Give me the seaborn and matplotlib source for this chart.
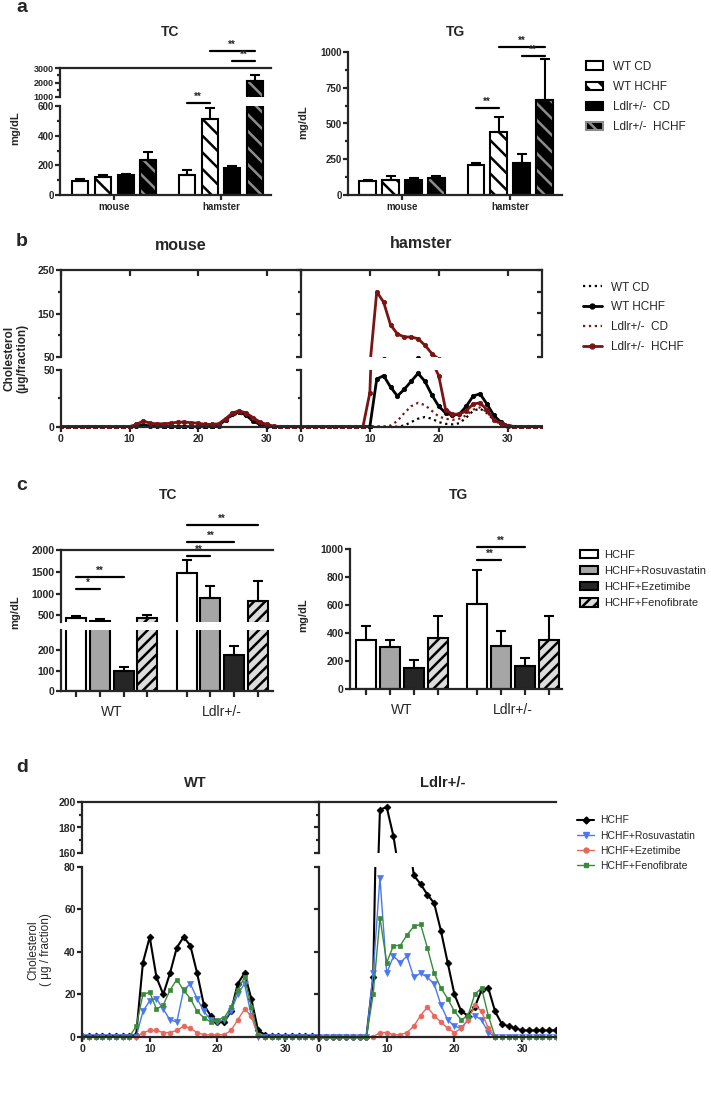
import numpy as np
import pandas as pd
import matplotlib
matplotlib.use("Agg")
import matplotlib.pyplot as plt
import matplotlib.transforms as mtrans
from matplotlib.patches import Rectangle, Patch
from matplotlib.lines import Line2D
import seaborn as sns

# ---- data ----
species = ["mouse", "hamster"]
groups_a = ["WT CD", "WT HCHF", "Ldlr+/-  CD", "Ldlr+/-  HCHF"]
tc_a = {"mouse": [92, 121, 138, 237], "hamster": [138, 514, 180, 2100]}
tc_a_err = {"mouse": [105, 138, 143, 290], "hamster": [169, 587, 198, 2500]}
tg_a = {"mouse": [95, 107, 102, 121], "hamster": [208, 438, 225, 665]}
tg_a_err = {"mouse": [105, 130, 116, 130], "hamster": [224, 548, 290, 950]}

fraction = list(range(36))
mouse_wt_cd = [0]*23 + [2, 6, 10, 12, 9, 5, 2, 0.5] + [0]*5
mouse_wt_hchf = [0]*11 + [0.5, 1.5, 0.5, 0.2] + [0]*8 + [1, 6, 11, 13, 10, 5, 2, 0.5] + [0]*5
mouse_ko_cd = [0]*23 + [2, 6, 10, 12, 10, 6, 3, 1] + [0]*5
mouse_ko_hchf = [0]*11 + [2, 5, 3, 2.5, 2.5, 3, 4, 4, 3.5, 3, 2, 2, 2.5, 7, 12, 14, 12, 8, 4, 2, 0.5] + [0]*4
ham_wt_cd = [0]*15 + [1, 4, 7, 8.5, 7, 4, 2.5, 2, 3, 8, 14, 16, 12, 6, 2, 0.5] + [0]*5
ham_wt_hchf = [0]*11 + [42, 45, 35, 27, 33, 40, 47, 40, 28, 18, 12, 10, 11, 18, 27, 29, 20, 10, 4, 1] + [0]*5
ham_ko_cd = [0]*13 + [1, 5, 12, 18, 21, 19, 14, 9, 7, 6, 7, 10, 15, 17, 13, 6, 2, 0.5] + [0]*5
ham_ko_hchf = [0]*10 + [30, 200, 176, 124, 103, 96, 96, 92, 77, 58, 45, 15, 11, 11, 14, 20, 21, 15, 6, 3, 1] + [0]*5

genotypes = ["WT", "Ldlr+/-"]
groups_c = ["HCHF", "HCHF+Rosuvastatin", "HCHF+Ezetimibe", "HCHF+Fenofibrate"]
tc_c = {"WT": [450, 380, 100, 440], "Ldlr+/-": [1480, 900, 175, 820]}
tc_c_err = {"WT": [490, 420, 120, 520], "Ldlr+/-": [1760, 1180, 220, 1280]}
tg_c = {"WT": [350, 300, 150, 365], "Ldlr+/-": [610, 305, 165, 350]}
tg_c_err = {"WT": [450, 350, 205, 525], "Ldlr+/-": [850, 415, 225, 520]}

wt_hchf = [0.5]*8 + [1, 35, 47, 28, 20, 30, 42, 47, 43, 30, 15, 10, 7, 7, 12, 25, 30, 18, 3, 1] + [0.5]*8
wt_rosu = [0]*9 + [12, 17, 18, 13, 8, 7, 22, 25, 18, 12, 8, 7, 8, 12, 20, 25, 10] + [0]*10
wt_ezet = [0]*9 + [2, 3, 3, 2, 2, 3, 5, 4, 2, 1, 1, 1, 1, 3, 8, 13, 10, 1] + [0]*9
wt_feno = [0]*8 + [5, 20, 21, 13, 15, 22, 27, 22, 18, 12, 9, 7, 8, 9, 14, 22, 28, 14, 1] + [0]*9
ko_hchf = [0]*8 + [28, 194, 196, 173, 140, 100, 76, 72, 67, 63, 50, 35, 20, 12, 10, 14, 22, 23, 12, 6, 5, 4] + [3]*6
ko_rosu = [0]*8 + [30, 75, 30, 38, 35, 38, 28, 30, 28, 25, 15, 8, 5, 4, 8, 10, 8, 2] + [0]*10
ko_ezet = [0]*9 + [2, 2, 1, 1, 2, 5, 10, 14, 10, 7, 4, 2, 4, 8, 15, 12, 4] + [0]*10
ko_feno = [0]*8 + [20, 56, 35, 43, 43, 48, 52, 53, 42, 30, 23, 18, 12, 8, 10, 20, 23, 10] + [0]*10

# ---- setup ----
sns.set_theme(style="ticks")
plt.rcParams["font.family"] = ["Liberation Sans", "DejaVu Sans"]
plt.rcParams["hatch.linewidth"] = 1.8
plt.rcParams["axes.linewidth"] = 1.6
plt.rcParams["xtick.major.width"] = 1.6
plt.rcParams["ytick.major.width"] = 1.6
plt.rcParams["xtick.minor.width"] = 1.6
plt.rcParams["ytick.minor.width"] = 1.6
plt.rcParams["xtick.major.size"] = 3.5
plt.rcParams["ytick.major.size"] = 3.5
plt.rcParams["ytick.minor.size"] = 2.2
plt.rcParams["xtick.major.pad"] = 1.5
plt.rcParams["ytick.major.pad"] = 1

W, H = 711, 1093
fig = plt.figure(figsize=(W / 100, H / 100), dpi=100)
DARKRED = "#7a1414"


def box(l, t, r, b):
    ax = fig.add_axes([l / W, 1 - b / H, (r - l) / W, (b - t) / H])
    ax.set_facecolor("none")
    return ax


def ftext(x, y, s, **kw):
    fig.text(x / W, 1 - y / H, s, ha="center", va="center", **kw)


def long(d, cats, hues):
    rows = [(c, h, d[c][i]) for c in cats for i, h in enumerate(hues)]
    return pd.DataFrame(rows, columns=["cat", "grp", "val"])


def bars(ax, d, err, cats, hues, styles, width, gap):
    sns.barplot(data=long(d, cats, hues), x="cat", y="val", hue="grp", order=cats,
                hue_order=hues, width=width, gap=gap, errorbar=None, legend=False,
                ax=ax, linewidth=1.5, edgecolor="black")
    for i, (cont, (fc, hc, hatch)) in enumerate(zip(ax.containers, styles)):
        for j, p in enumerate(cont):
            p.set_facecolor(fc)
            p.set_edgecolor(hc)
            p.set_hatch(hatch)
            if hc != "black":
                ax.add_patch(Rectangle(p.get_xy(), p.get_width(), p.get_height(),
                                       fill=False, edgecolor="black", lw=1.5))
            xc = p.get_x() + p.get_width() / 2
            top = p.get_height()
            ax.errorbar([xc], [top], yerr=[[0], [err[cats[j]][i] - top]], fmt="none",
                        ecolor="black", elinewidth=1.5, capsize=3.5, capthick=1.5)
    ax.set_xlabel("")
    ax.set_ylabel("")


def center(ax, h, c):
    p = ax.containers[h][c]
    return p.get_x() + p.get_width() / 2


def sig(ax, h0, h1, c, ypix, txt):
    tr = mtrans.blended_transform_factory(ax.transData, fig.transFigure)
    x0, x1 = center(ax, h0, c), center(ax, h1, c)
    ax.plot([x0, x1], [1 - ypix / H] * 2, color="black", lw=1.6, transform=tr, clip_on=False)
    ax.text((x0 + x1) / 2, 1 - (ypix - 1) / H, txt, transform=tr, ha="center", va="bottom",
            fontsize=7, fontweight="bold")


def top_part(ax):
    ax.spines["bottom"].set_visible(False)
    ax.spines["right"].set_visible(False)
    ax.tick_params(axis="x", bottom=False, labelbottom=False)


def low_part(ax):
    ax.spines["top"].set_visible(False)
    ax.spines["right"].set_visible(False)


bold = dict(fontweight="bold")

# ================= panel a =================
styles_a = [("white", "black", ""), ("white", "black", "\\\\"),
            ("black", "black", ""), ("black", "#8c8c8c", "\\\\")]
ax_tcu = box(60, 68, 271, 97)
ax_tcl = box(60, 106, 271, 195)
for ax in (ax_tcu, ax_tcl):
    bars(ax, tc_a, tc_a_err, species, groups_a, styles_a, 0.85, 0.29)
    ax.set_xlim(-0.51, 1.47)
top_part(ax_tcu)
low_part(ax_tcl)
ax_tcu.set_ylim(1000, 3000)
ax_tcu.set_yticks([1000, 2000, 3000])
ax_tcu.set_yticks([1500, 2500], minor=True)
ax_tcl.set_ylim(0, 600)
ax_tcl.set_yticks([0, 200, 400, 600])
ax_tcl.set_yticks([100, 300, 500], minor=True)

ax_tg = box(348, 52, 562, 195)
bars(ax_tg, tg_a, tg_a_err, species, groups_a, styles_a, 0.85, 0.29)
ax_tg.set_xlim(-0.5, 1.48)
ax_tg.set_ylim(0, 1000)
ax_tg.set_yticks([0, 250, 500, 750, 1000])
ax_tg.set_yticks([125, 375, 625, 875], minor=True)
low_part(ax_tg)

for ax in (ax_tcu, ax_tcl, ax_tg):
    ax.tick_params(labelsize=7)
    for lab in ax.get_xticklabels() + ax.get_yticklabels():
        lab.set_fontweight("bold")
ax_tcu.tick_params(axis="y", labelsize=6.5)

sig(ax_tcl, 0, 1, 1, 103, "**")
sig(ax_tcl, 1, 3, 1, 51, "**")
sig(ax_tcl, 2, 3, 1, 61, "**")
sig(ax_tg, 0, 1, 1, 108, "**")
sig(ax_tg, 1, 3, 1, 47, "**")
sig(ax_tg, 2, 3, 1, 56, "**")

ftext(22, 8, "a", fontsize=14, **bold)
ftext(170, 32, "TC", fontsize=10, **bold)
ftext(455, 32, "TG", fontsize=10, **bold)
ftext(15, 128, "mg/dL", fontsize=8, rotation=90, **bold)
ftext(303, 122, "mg/dL", fontsize=8, rotation=90, **bold)

h_a = [Patch(facecolor=fc, edgecolor=hc, hatch=ht, lw=1.5) for fc, hc, ht in styles_a]
fig.legend(h_a, groups_a, loc="upper left", bbox_to_anchor=(575 / W, 1 - 50 / H),
           frameon=False, fontsize=8.5, handlelength=1.5, handleheight=0.7,
           labelspacing=0.7, handletextpad=0.8)

# ================= panel b =================
series_b = [
    ("WT CD", "black", ":", None),
    ("WT HCHF", "black", "-", "o"),
    ("Ldlr+/-  CD", DARKRED, ":", None),
    ("Ldlr+/-  HCHF", DARKRED, "-", "o"),
]
data_b = {
    "mouse": [mouse_wt_cd, mouse_wt_hchf, mouse_ko_cd, mouse_ko_hchf],
    "hamster": [ham_wt_cd, ham_wt_hchf, ham_ko_cd, ham_ko_hchf],
}


def lines(ax, ys_list, specs, ms=3.2, lw_solid=2.0, lw_dot=1.6):
    for ys, (lab, col, ls, mk) in zip(ys_list, specs):
        kw = dict(color=col, linestyle=ls, linewidth=lw_solid if ls == "-" else lw_dot)
        if mk:
            kw.update(marker=mk, markersize=ms, markeredgecolor=col, markeredgewidth=0.5)
        sns.lineplot(x=fraction, y=ys, ax=ax, **kw)


axes_b = {}
for k, (l, r) in {"mouse": (61, 301), "hamster": (301, 542)}.items():
    up = box(l, 270, r, 357)
    lo = box(l, 370, r, 428)
    lines(up, data_b[k], series_b)
    lines(lo, data_b[k], series_b)
    up.set_ylim(50, 250)
    lo.set_ylim(-1.2, 50)
    lo.spines["bottom"].set_position(("data", 0))
    for ax in (up, lo):
        ax.set_xlim(0, 35)
        ax.set_xticks([0, 10, 20, 30])
    up.spines["bottom"].set_visible(False)
    up.spines["right"].set_visible(False)
    up.tick_params(axis="x", bottom=False, labelbottom=False, top=True, direction="in", length=4)
    up.set_yticks([50, 150, 250])
    up.set_yticks([100, 200], minor=True)
    lo.spines["top"].set_visible(False)
    lo.spines["right"].set_visible(False)
    lo.set_yticks([0, 50])
    lo.set_yticks([25], minor=True)
    for ax in (up, lo):
        ax.tick_params(labelsize=7.5)
        for lab in ax.get_xticklabels() + ax.get_yticklabels():
            lab.set_fontweight("bold")
    if k == "hamster":
        up.tick_params(axis="y", labelleft=False)
        lo.tick_params(axis="y", labelleft=False)
        sec = up.secondary_yaxis("right")
        sec.set_yticks([50, 100, 150, 200, 250])
        sec.tick_params(direction="in", labelright=False, length=3.5)
    axes_b[k] = (up, lo)

ftext(22, 242, "b", fontsize=14, **bold)
ftext(181, 245, "mouse", fontsize=11.5, **bold)
ftext(421, 244, "hamster", fontsize=11.5, **bold)
ftext(16, 358, "Cholesterol\n(\u03bcg/fraction)", fontsize=8.5, rotation=90, linespacing=1.0, **bold)
h_b = [Line2D([], [], color=c, linestyle=ls, lw=2.0 if ls == "-" else 1.6,
              marker=mk, markersize=3.5) for _, c, ls, mk in series_b]
fig.legend(h_b, [s[0] for s in series_b], loc="upper left", bbox_to_anchor=(572 / W, 1 - 271 / H),
           frameon=False, fontsize=8.5, handlelength=1.6, labelspacing=0.65, handletextpad=0.8)

# ================= panel c =================
styles_c = [("white", "black", ""), ("#a6a6a6", "black", ""),
            ("#262626", "black", ""), ("#dcdcdc", "black", "///")]
ax_ccu = box(61, 550, 273, 622)
ax_ccl = box(61, 630, 273, 691)
for ax in (ax_ccu, ax_ccl):
    bars(ax, tc_c, tc_c_err, genotypes, groups_c, styles_c, 0.86, 0.16)
    ax.set_xlim(-0.46, 1.46)
top_part(ax_ccu)
low_part(ax_ccl)
ax_ccu.set_ylim(350, 2000)
ax_ccu.set_yticks([500, 1000, 1500, 2000])
ax_ccl.set_ylim(0, 300)
ax_ccl.set_yticks([0, 100, 200])

ax_cg = box(350, 549, 562, 689)
bars(ax_cg, tg_c, tg_c_err, genotypes, groups_c, styles_c, 0.86, 0.16)
ax_cg.set_xlim(-0.47, 1.44)
ax_cg.set_ylim(0, 1000)
ax_cg.set_yticks([0, 200, 400, 600, 800, 1000])
low_part(ax_cg)

for ax in (ax_ccu, ax_ccl, ax_cg):
    ax.tick_params(axis="y", labelsize=7.5)
    for lab in ax.get_yticklabels():
        lab.set_fontweight("bold")
for ax in (ax_ccl, ax_cg):
    ax.tick_params(axis="x", length=0, labelsize=10, pad=10)
    cs = [center(ax, h, c) for h in range(4) for c in range(2)]
    ax.set_xticks(cs, minor=True)
    ax.tick_params(axis="x", which="minor", length=4, width=1.6)

sig(ax_ccl, 0, 1, 0, 589, "*")
sig(ax_ccl, 0, 2, 0, 577, "**")
sig(ax_ccl, 0, 1, 1, 556, "**")
sig(ax_ccl, 0, 2, 1, 542, "**")
sig(ax_ccl, 0, 3, 1, 525, "**")
sig(ax_cg, 0, 1, 1, 560, "**")
sig(ax_cg, 0, 2, 1, 547, "**")

ftext(22, 485, "c", fontsize=14, **bold)
ftext(168, 495, "TC", fontsize=10, **bold)
ftext(458, 495, "TG", fontsize=10, **bold)
ftext(15, 612, "mg/dL", fontsize=8, rotation=90, **bold)
ftext(303, 615, "mg/dL", fontsize=8, rotation=90, **bold)
h_c = [Patch(facecolor=fc, edgecolor="black", hatch=ht, lw=1.5) for fc, hc, ht in styles_c]
fig.legend(h_c, groups_c, loc="upper left", bbox_to_anchor=(570 / W, 1 - 540 / H),
           frameon=False, fontsize=8, handlelength=1.6, handleheight=0.75,
           labelspacing=0.55, handletextpad=0.6)

# ================= panel d =================
series_d = [
    ("HCHF", "black", "-", "D", 1.5, 3.5),
    ("HCHF+Rosuvastatin", "#4a78f0", "-", "v", 1.0, 4.5),
    ("HCHF+Ezetimibe", "#e8675d", "-", "o", 1.0, 3.5),
    ("HCHF+Fenofibrate", "#3a8a3a", "-", "s", 1.0, 3.5),
]
data_d = {"WT": [wt_hchf, wt_rosu, wt_ezet, wt_feno],
          "Ldlr+/-": [ko_hchf, ko_rosu, ko_ezet, ko_feno]}

for k, (l, r) in {"WT": (82, 319), "Ldlr+/-": (319, 556)}.items():
    up = box(l, 802, r, 853)
    lo = box(l, 867, r, 1040)
    for ax in (up, lo):
        for ys, (lab, col, ls, mk, lw, ms) in zip(data_d[k], series_d):
            sns.lineplot(x=fraction, y=ys, ax=ax, color=col, linestyle=ls, linewidth=lw,
                         marker=mk, markersize=ms, markeredgecolor=col, markeredgewidth=0.5)
        ax.set_xlim(0, 35)
        ax.set_xticks([0, 10, 20, 30])
        ax.tick_params(labelsize=7.5)
    up.set_ylim(160, 200)
    up.set_yticks([160, 180, 200])
    up.set_yticks([170, 190], minor=True)
    up.spines["bottom"].set_visible(False)
    up.spines["right"].set_visible(False)
    up.tick_params(axis="x", bottom=False, labelbottom=False, top=False)
    lo.set_ylim(-1.5, 80)
    lo.spines["bottom"].set_position(("data", 0))
    lo.set_yticks([0, 20, 40, 60, 80])
    lo.spines["top"].set_visible(False)
    lo.spines["right"].set_visible(False)
    for ax in (up, lo):
        for lab in ax.get_xticklabels() + ax.get_yticklabels():
            lab.set_fontweight("bold")
    if k != "WT":
        up.tick_params(axis="y", labelleft=False)
        lo.tick_params(axis="y", labelleft=False)

ftext(22, 767, "d", fontsize=14, **bold)
ftext(195, 783, "WT", fontsize=10.5, **bold)
ftext(443, 783, "Ldlr+/-", fontsize=10.5, **bold)
ftext(40, 950, "Cholesterol\n( \u03bcg / fraction)", fontsize=8.5, rotation=90, linespacing=1.1)
h_d = [Line2D([], [], color=c, lw=lw, marker=mk, markersize=ms) for _, c, ls, mk, lw, ms in series_d]
fig.legend(h_d, [s[0] for s in series_d], loc="upper left", bbox_to_anchor=(568 / W, 1 - 806 / H),
           frameon=False, fontsize=7.5, handlelength=1.6, labelspacing=0.5, handletextpad=0.6)

fig.savefig("out.png", dpi=100)
